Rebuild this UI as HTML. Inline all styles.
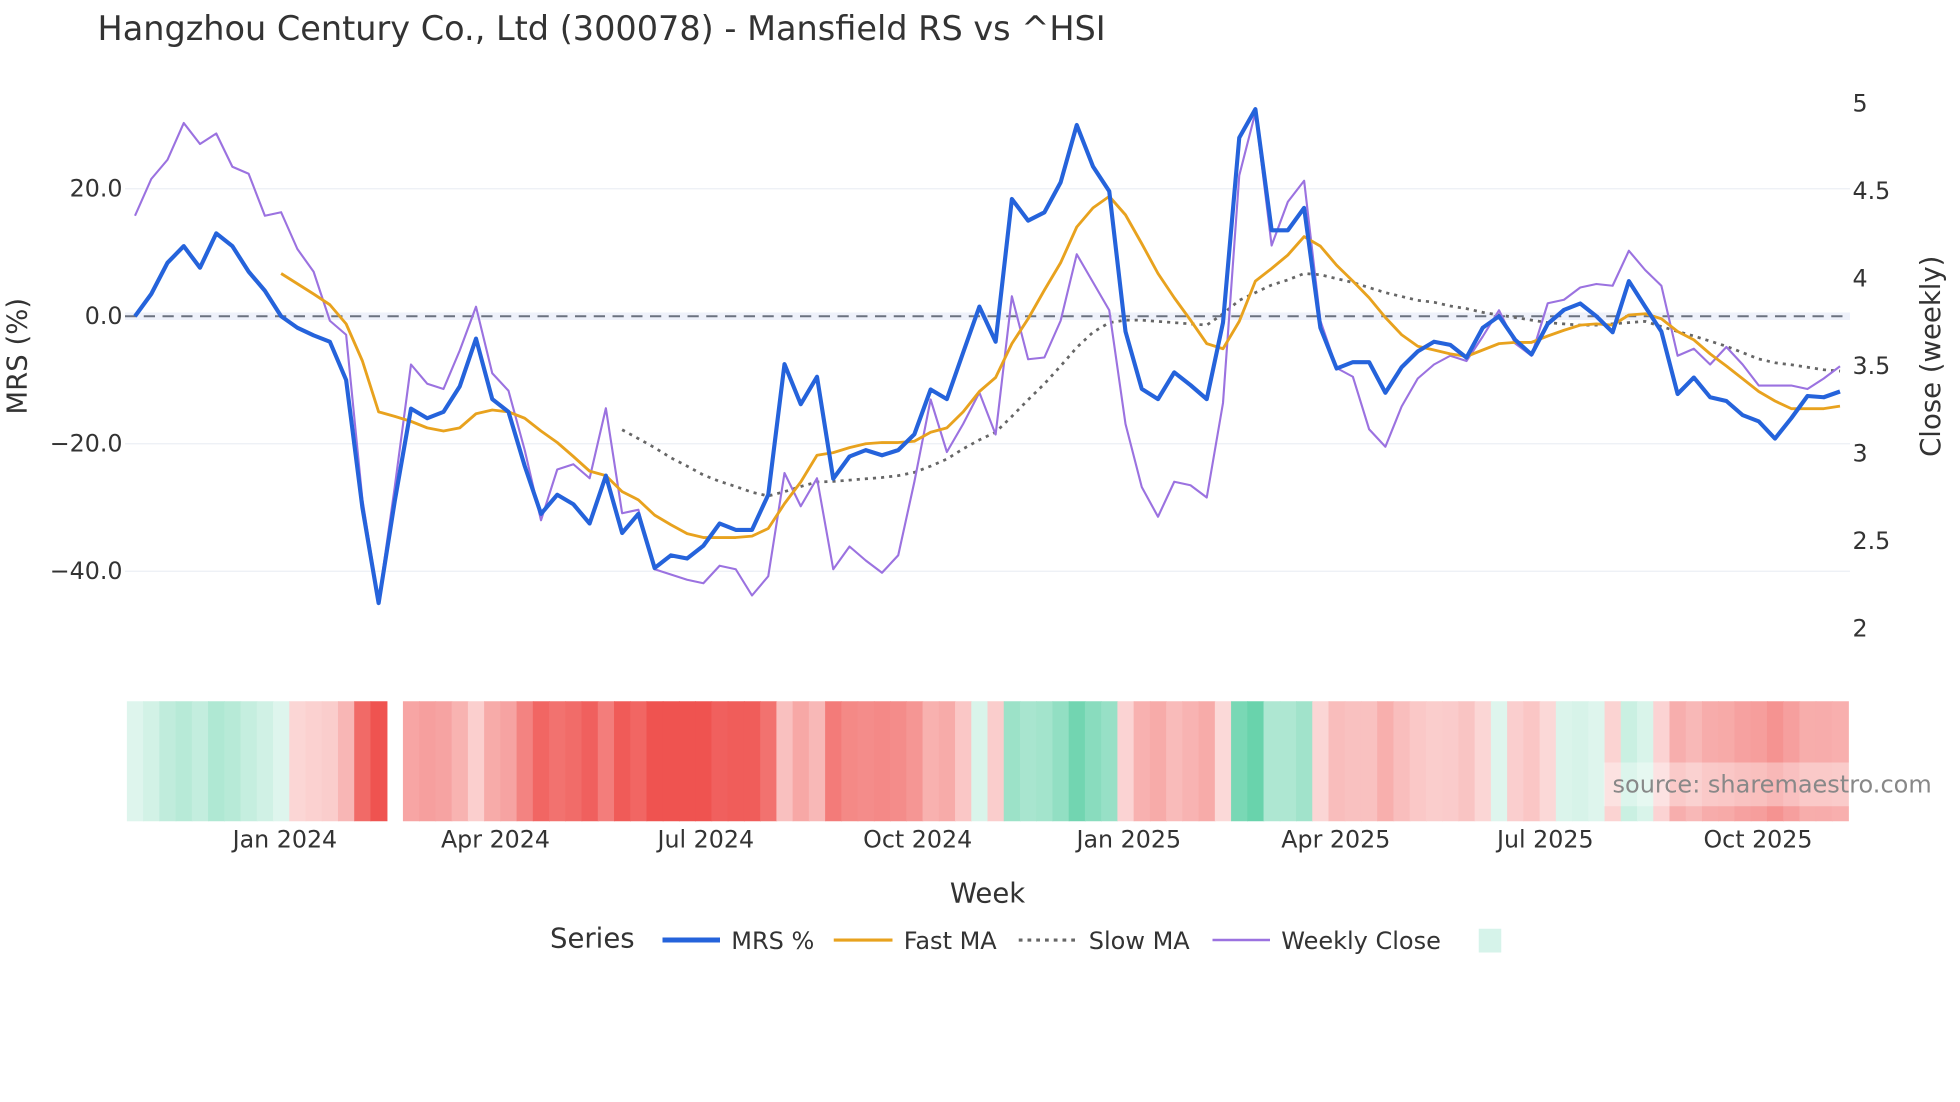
<!DOCTYPE html>
<html><head><meta charset="utf-8"><style>
html,body{margin:0;padding:0;background:#fff;width:1960px;height:1102px;overflow:hidden}
svg{display:block}
text{font-family:"DejaVu Sans","Liberation Sans",sans-serif;fill:#2a3f5f}
</style></head><body>
<svg id="chart" width="1960" height="1102" viewBox="0 0 1568 881.6" xmlns="http://www.w3.org/2000/svg">
<text x="78" y="32" font-size="26.8" style="fill:#333">Hangzhou Century Co., Ltd (300078) - Mansfield RS vs ^HSI</text>
<g id="grid"></g>
<g id="heat"></g>
<g id="series"></g>
<g id="axes"></g>
<rect x="1283" y="610" width="197" height="35" fill="#fff" opacity="0.35"/>
<text x="1290" y="634" font-size="19.2" style="fill:#888">source: sharemaestro.com</text>
<text transform="translate(21,285) rotate(-90)" text-anchor="middle" font-size="22" style="fill:#333">MRS (%)</text>
<text transform="translate(1552,285) rotate(-90)" text-anchor="middle" font-size="22" style="fill:#333">Close (weekly)</text>
<text x="790" y="722" text-anchor="middle" font-size="22" style="fill:#333">Week</text>
<g font-size="19.2">
<text x="440" y="758" font-size="22" style="fill:#333">Series</text>
<line x1="530" y1="752" x2="576" y2="752" stroke="#2563db" stroke-width="4"/>
<text x="585" y="759" style="fill:#333">MRS %</text>
<line x1="667" y1="752" x2="714" y2="752" stroke="#e8a21e" stroke-width="2.5"/>
<text x="723" y="759" style="fill:#333">Fast MA</text>
<line x1="815" y1="752" x2="860" y2="752" stroke="#666" stroke-width="2.5" stroke-dasharray="3,4"/>
<text x="871" y="759" style="fill:#333">Slow MA</text>
<line x1="970" y1="752" x2="1016" y2="752" stroke="#9b72e0" stroke-width="2"/>
<text x="1025" y="759" style="fill:#333">Weekly Close</text>
<rect x="1183" y="743" width="18" height="19" fill="#d6f3ea"/>
</g>
</svg>
<script>
const mrs=[0,3.5,8.4,11,7.6,13,11,7,4,0,-1.8,-3,-4,-10,-30,-45,-29,-14.5,-16,-15,-11,-3.5,-13,-15,-23.5,-31,-28,-29.5,-32.5,-25,-34,-31,-39.5,-37.5,-38,-36,-32.5,-33.5,-33.5,-28,-7.5,-13.8,-9.5,-25.5,-22,-21,-21.8,-21,-18.5,-11.5,-13,-5.7,1.5,-4,18.4,15,16.3,21,30,23.5,19.6,-2.4,-11.4,-13,-8.8,-10.8,-13,-1,28,32.5,13.5,13.5,17,-1.8,-8.2,-7.2,-7.2,-12,-8,-5.5,-4,-4.5,-6.5,-1.8,0,-3.7,-6,-1.2,1,2,0,-2.5,5.5,1.5,-2.4,-12.2,-9.6,-12.7,-13.3,-15.5,-16.5,-19.2,-16,-12.5,-12.7,-11.8];
const closeW=[4.36,4.57,4.68,4.89,4.77,4.83,4.64,4.6,4.36,4.38,4.17,4.04,3.76,3.68,2.74,2.16,2.81,3.51,3.4,3.37,3.59,3.84,3.46,3.36,3.02,2.62,2.91,2.94,2.86,3.26,2.66,2.68,2.34,2.31,2.28,2.26,2.36,2.34,2.19,2.3,2.89,2.7,2.86,2.34,2.47,2.39,2.32,2.42,2.84,3.31,3.01,3.17,3.35,3.11,3.9,3.54,3.55,3.76,4.14,3.98,3.82,3.17,2.81,2.64,2.84,2.82,2.75,3.29,4.59,4.95,4.19,4.44,4.56,3.76,3.49,3.44,3.14,3.04,3.27,3.43,3.51,3.56,3.53,3.67,3.82,3.63,3.56,3.86,3.88,3.95,3.97,3.96,4.16,4.05,3.96,3.56,3.6,3.51,3.61,3.51,3.39,3.39,3.39,3.37,3.43,3.5];
const fastMA=[null,null,null,null,null,null,null,null,null,6.7,5.1,3.5,1.8,-1.2,-7,-15,-15.7,-16.5,-17.5,-18,-17.5,-15.3,-14.7,-15,-16,-18,-19.8,-22,-24.3,-25,-27.5,-28.8,-31.2,-32.7,-34.1,-34.7,-34.7,-34.7,-34.5,-33.3,-29.4,-26,-21.8,-21.4,-20.6,-20,-19.8,-19.8,-19.6,-18.2,-17.5,-15,-11.8,-9.6,-4.3,-0.4,4.1,8.4,14,17,18.8,15.9,11.4,6.7,2.9,-0.6,-4.3,-5.1,-0.8,5.5,7.5,9.6,12.5,11,8,5.5,2.9,-0.2,-2.9,-4.7,-5.3,-5.9,-6.3,-5.3,-4.3,-4.1,-4.1,-3.1,-2.2,-1.4,-1.2,-1.4,0.2,0.4,-0.4,-2.4,-3.7,-5.9,-7.8,-9.8,-11.8,-13.3,-14.5,-14.5,-14.5,-14.1];
const slowMA=[null,null,null,null,null,null,null,null,null,null,null,null,null,null,null,null,null,null,null,null,null,null,null,null,null,null,null,null,null,null,-17.8,-19.2,-20.6,-22.2,-23.5,-24.9,-25.9,-26.7,-27.6,-28.2,-27.5,-26.7,-26,-25.9,-25.7,-25.5,-25.3,-25,-24.5,-23.5,-22.4,-20.8,-19.4,-18.2,-15.7,-13.1,-10.6,-7.8,-4.9,-2.5,-1,-0.6,-0.6,-0.8,-1,-1.2,-1.4,0.4,2.5,3.7,4.9,5.7,6.7,6.5,5.9,5.3,4.5,3.7,3.1,2.5,2.2,1.6,1.2,0.6,0.2,-0.2,-0.6,-1,-1.2,-1.4,-1.4,-1.2,-1,-0.8,-1.6,-2.4,-3.1,-3.9,-4.7,-5.7,-6.7,-7.3,-7.6,-8,-8.4,-8.6];
const heatVals=mrs.map((v,i)=>i===16?null:v);
const yTicks=[20,0,-20,-40];
const yTickLabels=["20.0","0.0","\u221220.0","\u221240.0"];
const y2Ticks=[5,4.5,4,3.5,3,2.5,2];
const y2TickLabels=["5","4.5","4","3.5","3","2.5","2"];
const xTickWeeks=[9.23,22.2,35.15,48.2,61.2,73.95,86.85,99.95];
const xTickLabels=["Jan 2024","Apr 2024","Jul 2024","Oct 2024","Jan 2025","Apr 2025","Jul 2025","Oct 2025"];

const NS="http://www.w3.org/2000/svg";
const X=i=>108+i*(1472-108)/105;
const Y=v=>253-v*5.1;
const Y2=v=>503-(v-2)*140;
function mk(tag,attrs,parent){const e=document.createElementNS(NS,tag);for(const k in attrs)e.setAttribute(k,attrs[k]);parent.appendChild(e);return e;}
const grid=document.getElementById('grid'),axes=document.getElementById('axes'),heat=document.getElementById('heat'),ser=document.getElementById('series');
mk('rect',{x:100,y:Y(0)-3,width:1380,height:6,fill:'#eef1fa'},grid);
yTicks.forEach((t,k)=>{
  if(t!==0){const l=mk('line',{x1:100,x2:1480,y1:Y(t),y2:Y(t),stroke:'#eceff5','stroke-width':1},grid);
  
  }
  const tx=mk('text',{x:98,y:Y(t)+6,'text-anchor':'end','font-size':19,style:'fill:#333'},axes);
  tx.textContent=yTickLabels[k];
  
  
});
y2Ticks.forEach((t,k)=>{
  const tx=mk('text',{x:1482,y:Y2(t)+6,'font-size':19,style:'fill:#333'},axes);
  tx.textContent=y2TickLabels[k];
  
  
});
xTickWeeks.forEach((w,k)=>{
  const tx=mk('text',{x:X(w),y:678,'text-anchor':'middle','font-size':19,style:'fill:#333'},axes);
  tx.textContent=xTickLabels[k];
  
  
});
const cw=(1472-108)/105;
function heatColor(v){
  const a=Math.min(1,Math.abs(v)/36);
  const c=v>=0?[92,207,165]:[239,83,80];
  const mix=c.map(ch=>Math.round(255-(255-ch)*(0.2+0.8*a)));
  return 'rgb('+mix.join(',')+')';
}
heatVals.forEach((v,i)=>{
  if(v===null)return;
  const r=mk('rect',{x:Math.max(101,X(i)-cw/2),y:561,width:cw+0.6,height:96,fill:heatColor(v)},heat);
  
  
});
const zl=mk('line',{x1:100,x2:1480,y1:Y(0),y2:Y(0),stroke:'#6b7280','stroke-width':1.6,'stroke-dasharray':'9,6'},ser);


function path(arr,yf){let d='';let pen=false;arr.forEach((v,i)=>{if(v===null){pen=false;return;}d+=(pen?'L':'M')+X(i).toFixed(1)+','+yf(v).toFixed(1);pen=true;});return d;}
const p1=mk('path',{d:path(slowMA,Y),fill:'none',stroke:'#666','stroke-width':2.2,'stroke-dasharray':'2.5,4'},ser);


const p2=mk('path',{d:path(closeW,Y2),fill:'none',stroke:'#9b72e0','stroke-width':1.7,'stroke-linejoin':'round'},ser);


const p3=mk('path',{d:path(fastMA,Y),fill:'none',stroke:'#e8a21e','stroke-width':2.3,'stroke-linejoin':'round'},ser);


const p4=mk('path',{d:path(mrs,Y),fill:'none',stroke:'#2563db','stroke-width':3.3,'stroke-linejoin':'round'},ser);


</script>
</body></html>
